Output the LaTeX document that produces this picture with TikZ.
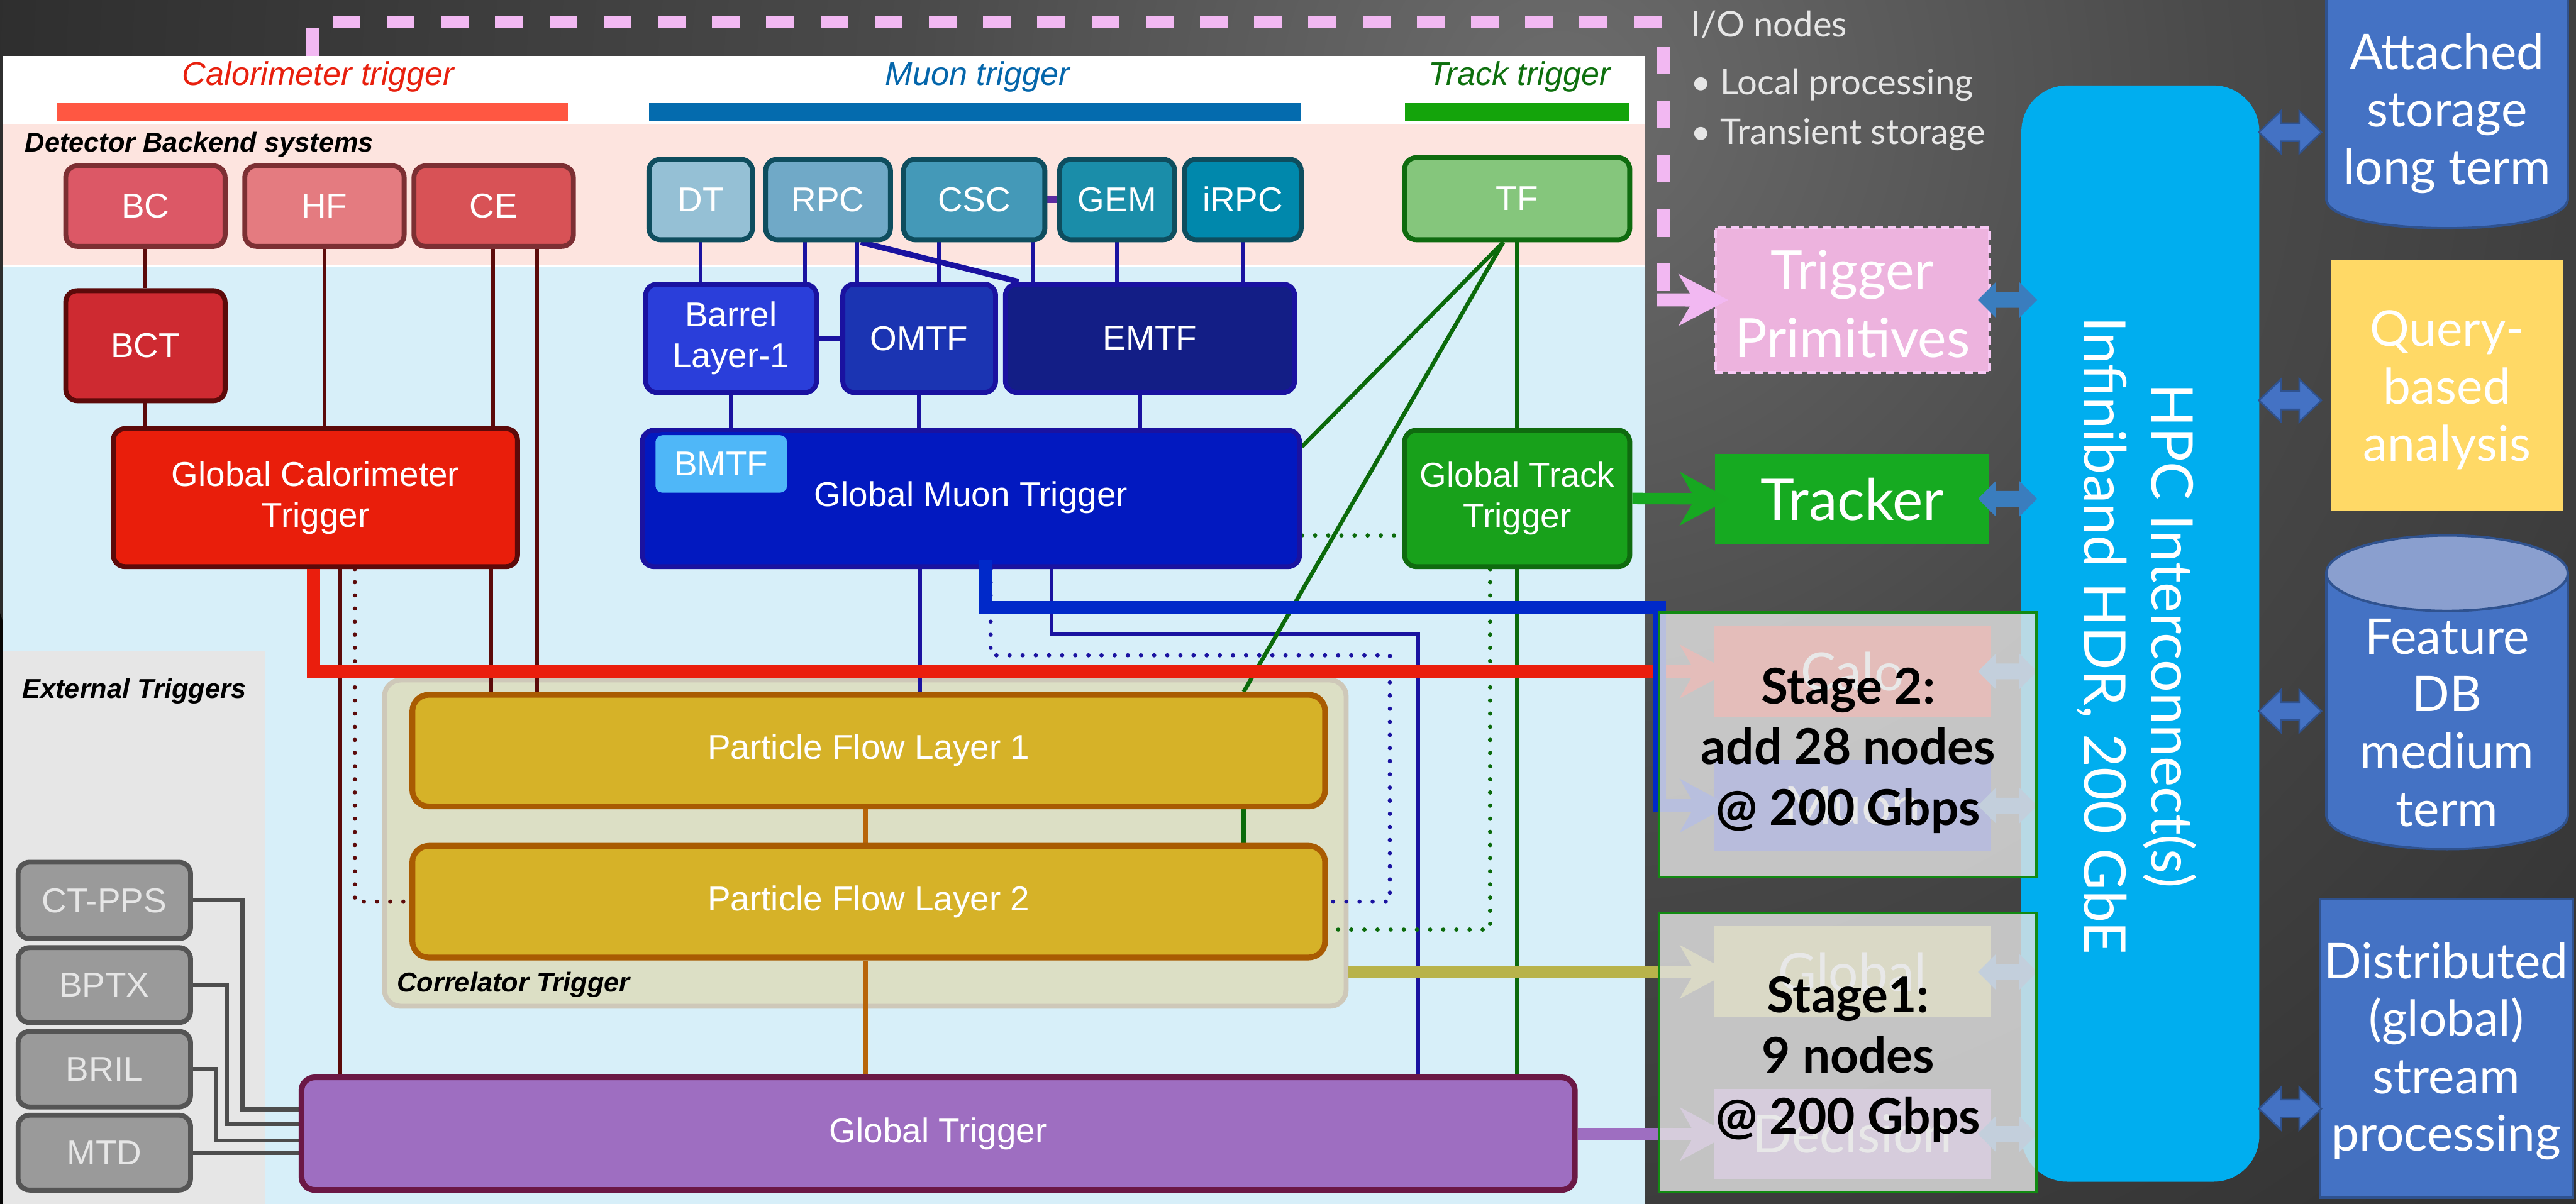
\documentclass[tikz,border=0pt]{standalone}
\usepackage{fontspec}
\setmainfont{Liberation Sans}
\newfontfamily\lato{Lato}
\usetikzlibrary{arrows.meta,calc}

% background glow
\definecolor{bgA}{HTML}{6C6C6C}
\definecolor{bgB}{HTML}{4A4A4A}
\definecolor{bgC}{HTML}{262626}
\definecolor{bgD}{HTML}{070707}
\pgfdeclareradialshading{darkglow}{\pgfpoint{0bp}{0bp}}{color(0bp)=(bgA); color(10bp)=(bgB); color(28bp)=(bgC); color(50bp)=(bgD)}

% panels and headers
\definecolor{pinkband}{HTML}{FDE4DF}
\definecolor{skyband}{HTML}{D7EFF9}
\definecolor{extpanel}{HTML}{E6E6E6}
\definecolor{calhead}{HTML}{E8200E}
\definecolor{muhead}{HTML}{0466AB}
\definecolor{trkhead}{HTML}{0E700E}
\definecolor{calbar}{HTML}{FF5742}
\definecolor{mubar}{HTML}{046BAE}
\definecolor{trkbar}{HTML}{14A40B}
% calorimeter chain
\definecolor{bcF}{HTML}{DC5866}
\definecolor{hfF}{HTML}{E47B80}
\definecolor{ceF}{HTML}{D85256}
\definecolor{calD}{HTML}{7C2F33}
\definecolor{bctF}{HTML}{CE2A31}
\definecolor{gctF}{HTML}{E91E0B}
\definecolor{calL}{HTML}{5C0A0A}
% muon chain
\definecolor{dtF}{HTML}{95C0D5}
\definecolor{rpcF}{HTML}{70A9C7}
\definecolor{cscF}{HTML}{4499B8}
\definecolor{gemF}{HTML}{1A8DA9}
\definecolor{irpcF}{HTML}{0088AC}
\definecolor{muD}{HTML}{0E4D5E}
\definecolor{blF}{HTML}{2A3EDA}
\definecolor{omF}{HTML}{1B34B2}
\definecolor{emF}{HTML}{131E86}
\definecolor{gmtF}{HTML}{0219C0}
\definecolor{muL}{HTML}{1A12A0}
\definecolor{bmtfF}{HTML}{4FB7F8}
\definecolor{csclink}{HTML}{5B2BA0}
% track chain
\definecolor{tfF}{HTML}{85C67C}
\definecolor{trkD}{HTML}{0F6B0F}
\definecolor{gttF}{HTML}{18A11B}
\definecolor{trkL}{HTML}{0B6A0B}
% correlator, external, global
\definecolor{corrF}{HTML}{DCDFC5}
\definecolor{corrD}{HTML}{CEC8B9}
\definecolor{pfF}{HTML}{D6B228}
\definecolor{pfD}{HTML}{A95B02}
\definecolor{pfL}{HTML}{B8650A}
\definecolor{extF}{HTML}{9A9A9A}
\definecolor{extD}{HTML}{555555}
\definecolor{extT}{HTML}{E6E6E6}
\definecolor{extL}{HTML}{4D4D4D}
\definecolor{gtF}{HTML}{9E6EC1}
\definecolor{gtD}{HTML}{6B1845}
% output feeds
\definecolor{redfeed}{HTML}{EA1E0D}
\definecolor{bluefeed}{HTML}{0029C9}
\definecolor{olivefeed}{HTML}{B8B34B}
\definecolor{purplefeed}{HTML}{9E6EC1}
\definecolor{greenfeed}{HTML}{17A821}
% I/O side
\definecolor{iopink}{HTML}{F2B8F2}
\definecolor{tpF}{HTML}{EDB3DE}
\definecolor{tpD}{HTML}{F7C8F4}
\definecolor{trackerF}{HTML}{16AA21}
\definecolor{hpcF}{HTML}{00AEEF}
\definecolor{stoF}{HTML}{4472C4}
\definecolor{stoD}{HTML}{2F528F}
\definecolor{stoTop}{HTML}{8A9FCF}
\definecolor{queryF}{HTML}{FFD966}
\definecolor{linkF}{HTML}{3A7DBE}
\definecolor{veilF}{HTML}{E3E3E3}
\definecolor{veilD}{HTML}{128A12}
\definecolor{iotext}{HTML}{E6E6E6}

\pgfdeclarelayer{bg}\pgfdeclarelayer{links}\pgfdeclarelayer{thick}\pgfdeclarelayer{veil}\pgfdeclarelayer{front}
\pgfsetlayers{bg,links,main,thick,veil,front}

\newcommand\boxfont{\fontsize{21}{25}\selectfont}
\newcommand\tagfont{\bfseries\itshape\fontsize{16.6}{20}\selectfont}
\newcommand\headfont{\itshape\fontsize{20}{24}\selectfont}

% node from its corner coordinates: name, style, x1, y1, x2, y2, text
\newcommand\boxat[7]{\node[#2, minimum width={(#5-#3)*1pt}, minimum height={(#6-#4)*1pt}] (#1) at ({(#3+#5)/2},{(#4+#6)/2}) {#7};}
% two-headed block arrow: x1, x2, y, head length, head half height, shaft half height, style
\newcommand\dblarrow[7]{\fill[#7] ({#1},{#3}) -- ({#1+#4},{#3-#5}) -- ({#1+#4},{#3-#6}) -- ({#2-#4},{#3-#6}) -- ({#2-#4},{#3-#5}) -- ({#2},{#3}) -- ({#2-#4},{#3+#5}) -- ({#2-#4},{#3+#6}) -- ({#1+#4},{#3+#6}) -- ({#1+#4},{#3+#5}) -- cycle;}

\tikzset{
  trig/.style 2 args={fill=#1, draw=#2, line width=3pt, rounded corners=7pt, text=white, align=center, inner sep=0pt, font=\boxfont},
  calline/.style={draw=calL, line width=2.5pt},
  muline/.style={draw=muL, line width=2.5pt},
  trkline/.style={draw=trkL, line width=2.5pt},
  pfline/.style={draw=pfL, line width=2.5pt},
  extline/.style={draw=extL, line width=2.5pt},
  dots/.style={line width=2.6pt, line cap=round, dash pattern=on 0pt off 8pt},
  feedtip/.style={-{Stealth[length=30pt,width=32pt,inset=9pt]}},
  iodash/.style={draw=iopink, line width=8pt, dash pattern=on 17pt off 16pt},
  bigtext/.style={text=white, align=center, font=\lato\fontsize{30}{35}\selectfont},
  stagetext/.style={text=black, align=center, font=\lato\bfseries\fontsize{30}{37}\selectfont},
  fadedtext/.style={text=white, font=\lato\fontsize{32}{36}\selectfont},
  iolabel/.style={text=iotext, anchor=base west, inner sep=0pt, font=\lato\fontsize{21.5}{26}\selectfont},
  smalllink/.style={fill=linkF},
  biglink/.style={fill=stoF, draw=stoD, line width=1pt},
  veil/.style={fill=veilF, fill opacity=0.81, draw=veilD, line width=1.3pt},
}

\begin{document}
\begin{tikzpicture}[x=1pt,y=-1pt]
\useasboundingbox (0,0) rectangle (1568,733);

\begin{pgfonlayer}{bg}
  \begin{scope}
    \clip (0,0) rectangle (1568,733);
    \fill[bgD] (0,0) rectangle (1568,733);
    \shade[shading=darkglow] (950,60) circle [radius=1000];
  \end{scope}
  % trigger panel
  \fill[white] (2,34) rectangle (1001,733);
  \fill[pinkband] (2,75.6) rectangle (1001,161);
  \fill[skyband] (2,162.5) rectangle (1001,733);
  \fill[extpanel] (2,396.7) rectangle (161,733);
  % headers
  \node[font=\headfont, text=calhead, anchor=base, inner sep=0pt] (calhdr) at (193.7,51.8) {Calorimeter trigger};
  \node[font=\headfont, text=muhead, anchor=base, inner sep=0pt] (muhdr) at (595,51.8) {Muon trigger};
  \node[font=\headfont, text=trkhead, anchor=base, inner sep=0pt] (trkhdr) at (925,51.8) {Track trigger};
  \fill[calbar] (35,62.7) rectangle (345.5,74);
  \fill[mubar] (395,62.7) rectangle (792,74);
  \fill[trkbar] (855,62.7) rectangle (992,74);
  \node[font=\tagfont, anchor=base west, inner sep=0pt] (backend) at (15,92.4) {Detector Backend systems};
  \node[font=\tagfont, anchor=base west, inner sep=0pt] (exttag) at (13.4,425) {External Triggers};
  % correlator frame
  \boxat{corr}{fill=corrF, draw=corrD, line width=3pt, rounded corners=10pt}{234}{414}{819.4}{612.7}{}
  \node[font=\tagfont, anchor=base west, inner sep=0pt] (corrtag) at (241.5,604) {Correlator Trigger};
\end{pgfonlayer}

% ---------------- boxes ----------------
\boxat{bc}{trig={bcF}{calD}}{40}{101}{137}{150}{BC}
\boxat{hf}{trig={hfF}{calD}}{149}{101}{246}{150}{HF}
\boxat{ce}{trig={ceF}{calD}}{252}{101}{349}{150}{CE}
\boxat{bct}{trig={bctF}{calL}}{40}{177}{137}{244}{BCT}
\boxat{gct}{trig={gctF}{calL}}{69}{261}{315}{345}{Global Calorimeter\\Trigger}

\boxat{dt}{trig={dtF}{muD}}{395}{97}{458}{146}{DT}
\boxat{rpc}{trig={rpcF}{muD}}{466}{97}{542}{146}{RPC}
\boxat{csc}{trig={cscF}{muD}}{550}{97}{636}{146}{CSC}
\boxat{gem}{trig={gemF}{muD}}{645}{97}{715}{146}{GEM}
\boxat{irpc}{trig={irpcF}{muD}}{721}{97}{792}{146}{iRPC}
\boxat{barrel}{trig={blF}{muL}}{393}{173}{497}{239}{Barrel\\Layer-1}
\boxat{omtf}{trig={omF}{muL}}{513}{173}{606}{239}{OMTF}
\boxat{emtf}{trig={emF}{muL}}{612}{173}{788}{239}{EMTF}
\boxat{gmt}{trig={gmtF}{muL}}{391}{262}{791}{345}{}
\node[text=white, font=\boxfont] (gmtlabel) at (591,303) {Global Muon Trigger};
\boxat{bmtf}{trig={bmtfF}{gmtF}, line width=2pt, rounded corners=5pt}{398}{264}{480}{301}{BMTF}

\boxat{tf}{trig={tfF}{trkD}}{855}{96}{992}{146}{TF}
\boxat{gtt}{trig={gttF}{trkD}}{855}{262}{992}{345}{Global Track\\Trigger}

\boxat{pf1}{trig={pfF}{pfD}, line width=3.5pt, rounded corners=10pt}{251}{423}{806.6}{491}{Particle Flow Layer 1}
\boxat{pf2}{trig={pfF}{pfD}, line width=3.5pt, rounded corners=10pt}{251}{515}{806.6}{583}{Particle Flow Layer 2}

\boxat{ctpps}{trig={extF}{extD}, text=extT}{11}{525}{116}{571.5}{CT-PPS}
\boxat{bptx}{trig={extF}{extD}, text=extT}{11}{577}{116}{622.6}{BPTX}
\boxat{bril}{trig={extF}{extD}, text=extT}{11}{628}{116}{674}{BRIL}
\boxat{mtd}{trig={extF}{extD}, text=extT}{11}{679}{116}{724.6}{MTD}

\boxat{gt}{trig={gtF}{gtD}, line width=3.5pt, rounded corners=8pt}{183.5}{656}{958.6}{724.5}{Global Trigger}

% ---------------- I/O and storage side ----------------
\boxat{hpc}{fill=hpcF, rounded corners=28pt}{1230.4}{52}{1375.2}{719.5}{}
\node[rotate=-90, text=white, align=center, font=\lato\fontsize{35}{41}\selectfont] (hpctext) at (1300.5,387) {HPC Interconnect(s)\\Infiniband HDR, 200 GbE};

\boxat{tp}{fill=tpF, draw=tpD, line width=2pt, dash pattern=on 5pt off 3pt}{1044}{138.5}{1211}{226.8}{}
\node[text=white, align=center, font=\lato\fontsize{33}{41.4}\selectfont] (tptext) at (1127.5,185) {Trigger\\Primitives};
\boxat{tracker}{fill=trackerF}{1044}{276.5}{1211}{331}{}
\node[text=white, font=\lato\fontsize{35}{40}\selectfont] (trackertext) at (1127.5,304) {Tracker};

\boxat{calo}{fill=gctF}{1043}{381}{1212}{436.6}{}
\node[fadedtext] (calotext) at (1127.5,409) {Calo};
\boxat{muon}{fill=gmtF}{1043}{463}{1212}{518}{}
\node[fadedtext] (muontext) at (1127.5,490.5) {Muon};
\boxat{glob}{fill=olivefeed}{1043}{564}{1212}{619.5}{}
\node[fadedtext] (globtext) at (1127.5,592) {Global};
\boxat{dec}{fill=purplefeed}{1043}{663}{1212}{718}{}
\node[fadedtext] (dectext) at (1127.5,690.5) {Decision};

% storage and analysis
\path[fill=stoF, draw=stoD, line width=1.5pt] (1416,-20) -- (1416,121) .. controls (1416,145) and (1563,145) .. (1563,121) -- (1563,-20) -- cycle;
\node[bigtext] (store) at (1489.5,69) {Attached\\storage\\long term};
\boxat{query}{fill=queryF}{1419}{158.6}{1560}{311}{}
\node[bigtext] (querytext) at (1489.5,237.6) {Query-\\based\\analysis};
\path[fill=stoF, draw=stoD, line width=1.5pt] (1416,349) -- (1416,496) .. controls (1416,524) and (1563,524) .. (1563,496) -- (1563,349) -- cycle;
\path[fill=stoTop, draw=stoD, line width=1.5pt] (1489.5,349) ellipse [x radius=73.5, y radius=23];
\node[bigtext] (featdb) at (1489.5,440) {Feature\\DB\\medium\\term};
\boxat{dist}{fill=stoF, draw=stoD, line width=1.5pt}{1412}{547.5}{1566}{729.4}{}
\node[bigtext] (disttext) at (1489,640) {Distributed\\(global)\\stream\\processing};

\node[iolabel] (io) at (1029,22.5) {I/O nodes};
\node[iolabel] (io1) at (1029,57.5) {• Local processing};
\node[iolabel] (io2) at (1029,88) {• Transient storage};

% ---------------- thin links ----------------
\begin{pgfonlayer}{links}
  % calorimeter
  \draw[calline] (bc.south) -- (bct.north);
  \draw[calline] (bct.south) -- (bct.south |- gct.north);
  \draw[calline] (hf.south) -- (hf.south |- gct.north);
  \draw[calline] (300,0 |- ce.south) -- (300,0 |- gct.north);
  \draw[calline] (327,0 |- ce.south) -- (327,0 |- pf1.north);
  \draw[calline] (207,0 |- gct.south) -- (207,0 |- gt.north);
  \draw[calline] (299,0 |- gct.south) -- (299,0 |- pf1.north);
  \draw[dots, calL] (216,0 |- gct.south) |- (pf2.west);
  % muon
  \draw[muline] (dt.south) -- (dt.south |- barrel.north);
  \draw[muline] (490,0 |- rpc.south) -- (490,0 |- barrel.north);
  \draw[muline] (521.7,0 |- rpc.south) -- (521.7,0 |- omtf.north);
  \draw[muline, line width=3.5pt] (524,0 |- rpc.south) -- (620,0 |- emtf.north);
  \draw[muline] (571.6,0 |- csc.south) -- (571.6,0 |- omtf.north);
  \draw[muline] (629,0 |- csc.south) -- (629,0 |- emtf.north);
  \draw[muline] (gem.south) -- (gem.south |- emtf.north);
  \draw[muline] (irpc.south) -- (irpc.south |- emtf.north);
  \draw[draw=csclink, line width=4pt] (csc.east) -- (gem.west);
  \draw[muline, line width=3.5pt] (barrel.east) -- (omtf.west);
  \draw[muline] (barrel.south) -- (barrel.south |- gmt.north);
  \draw[muline] (omtf.south) -- (omtf.south |- gmt.north);
  \draw[muline] (694,0 |- emtf.south) -- (694,0 |- gmt.north);
  \draw[muline] (560,0 |- gmt.south) -- (560,0 |- pf1.north);
  \draw[muline] (640,0 |- gmt.south) -- (640,386) -- (863,386) -- (863,0 |- gt.north);
  \draw[dots, muL] (603,0 |- gmt.south) -- (603,399) -- (846,399) |- (pf2.east);
  \draw[dots, trkL] (gmt.east |- 0,326) -- (gtt.west |- 0,326);
  % track
  \draw[trkline] (915,0 |- tf.south) -- (gmt.east |- 0,272);
  \draw[trkline] (915,0 |- tf.south) -- (757,0 |- pf1.north);
  \draw[trkline] (tf.south) -- (tf.south |- gtt.north);
  \draw[trkline] (757,0 |- pf1.south) -- (757,0 |- pf2.north);
  \draw[trkline] (gtt.south) -- (gtt.south |- gt.north);
  \draw[dots, trkL] (907,0 |- gtt.south) -- (907,566) -- (pf2.east |- 0,566);
  % correlator
  \draw[pfline] (527,0 |- pf1.south) -- (527,0 |- pf2.north);
  \draw[pfline] (527,0 |- pf2.south) -- (527,0 |- gt.north);
  % external triggers
  \draw[extline] (ctpps.east) -| (147.6,675.5) -- (gt.west |- 0,675.5);
  \draw[extline] (bptx.east) -| (138,684.4) -- (gt.west |- 0,684.4);
  \draw[extline] (bril.east) -| (131.5,694.5) -- (gt.west |- 0,694.5);
  \draw[extline] (mtd.east) -- (gt.west |- mtd.east);
\end{pgfonlayer}

% ---------------- feeds into the I/O nodes ----------------
\begin{pgfonlayer}{thick}
  \draw[redfeed, line width=8pt, feedtip] (191,0 |- gct.south) |- ($(calo.west)+(10,0)$);
  \draw[bluefeed, line width=8pt, feedtip] (600,341) -- (600,370) -- (1010,370) |- ($(muon.west)+(10,0)$);
  \draw[olivefeed, line width=7.6pt, feedtip] (corr.east |- glob.west) -- ($(glob.west)+(10,0)$);
  \draw[purplefeed, line width=7.6pt, feedtip] (gt.east |- dec.west) -- ($(dec.west)+(10,0)$);
  \draw[greenfeed, line width=7pt, feedtip] (gtt.east) -- ($(tracker.west)+(9,0)$);
  \draw[iodash] (190,34) -- (190,13.4) -- (1012.6,13.4) -- (1012.6,182.6);
  \draw[iopink, line width=8pt, -{Stealth[length=30pt,width=31pt,inset=9pt]}] (1008.6,182.6) -- ($(tp.west)+(9,0)$);
  % links to the interconnect and the storage
  \dblarrow{1204}{1240}{182.6}{11}{11}{4.8}{smalllink}
  \dblarrow{1204}{1240}{303.7}{11}{11}{4.8}{smalllink}
  \dblarrow{1204}{1240}{408.8}{11}{11}{4.8}{smalllink}
  \dblarrow{1204}{1240}{490.5}{11}{11}{4.8}{smalllink}
  \dblarrow{1204}{1240}{591.8}{11}{11}{4.8}{smalllink}
  \dblarrow{1204}{1240}{690.5}{11}{11}{4.8}{smalllink}
  \dblarrow{1375}{1413}{80.5}{13.5}{13}{5.5}{biglink}
  \dblarrow{1375}{1413}{243.8}{13.5}{13}{5.5}{biglink}
  \dblarrow{1375}{1413}{433}{13.5}{13}{5.5}{biglink}
  \dblarrow{1375}{1413}{675}{13.5}{13}{5.5}{biglink}
\end{pgfonlayer}

% ---------------- stage overlays ----------------
\begin{pgfonlayer}{veil}
  \boxat{stage2}{veil}{1010}{372.8}{1239.6}{534}{}
  \boxat{stage1}{veil}{1010}{556}{1239.6}{726}{}
\end{pgfonlayer}
\begin{pgfonlayer}{front}
  \node[stagetext] (s2text) at (1125,457) {Stage 2:\\add 28 nodes\\@ 200 Gbps};
  \node[stagetext] (s1text) at (1125,645) {Stage1:\\9 nodes\\@ 200 Gbps};
\end{pgfonlayer}
\end{tikzpicture}
\end{document}
